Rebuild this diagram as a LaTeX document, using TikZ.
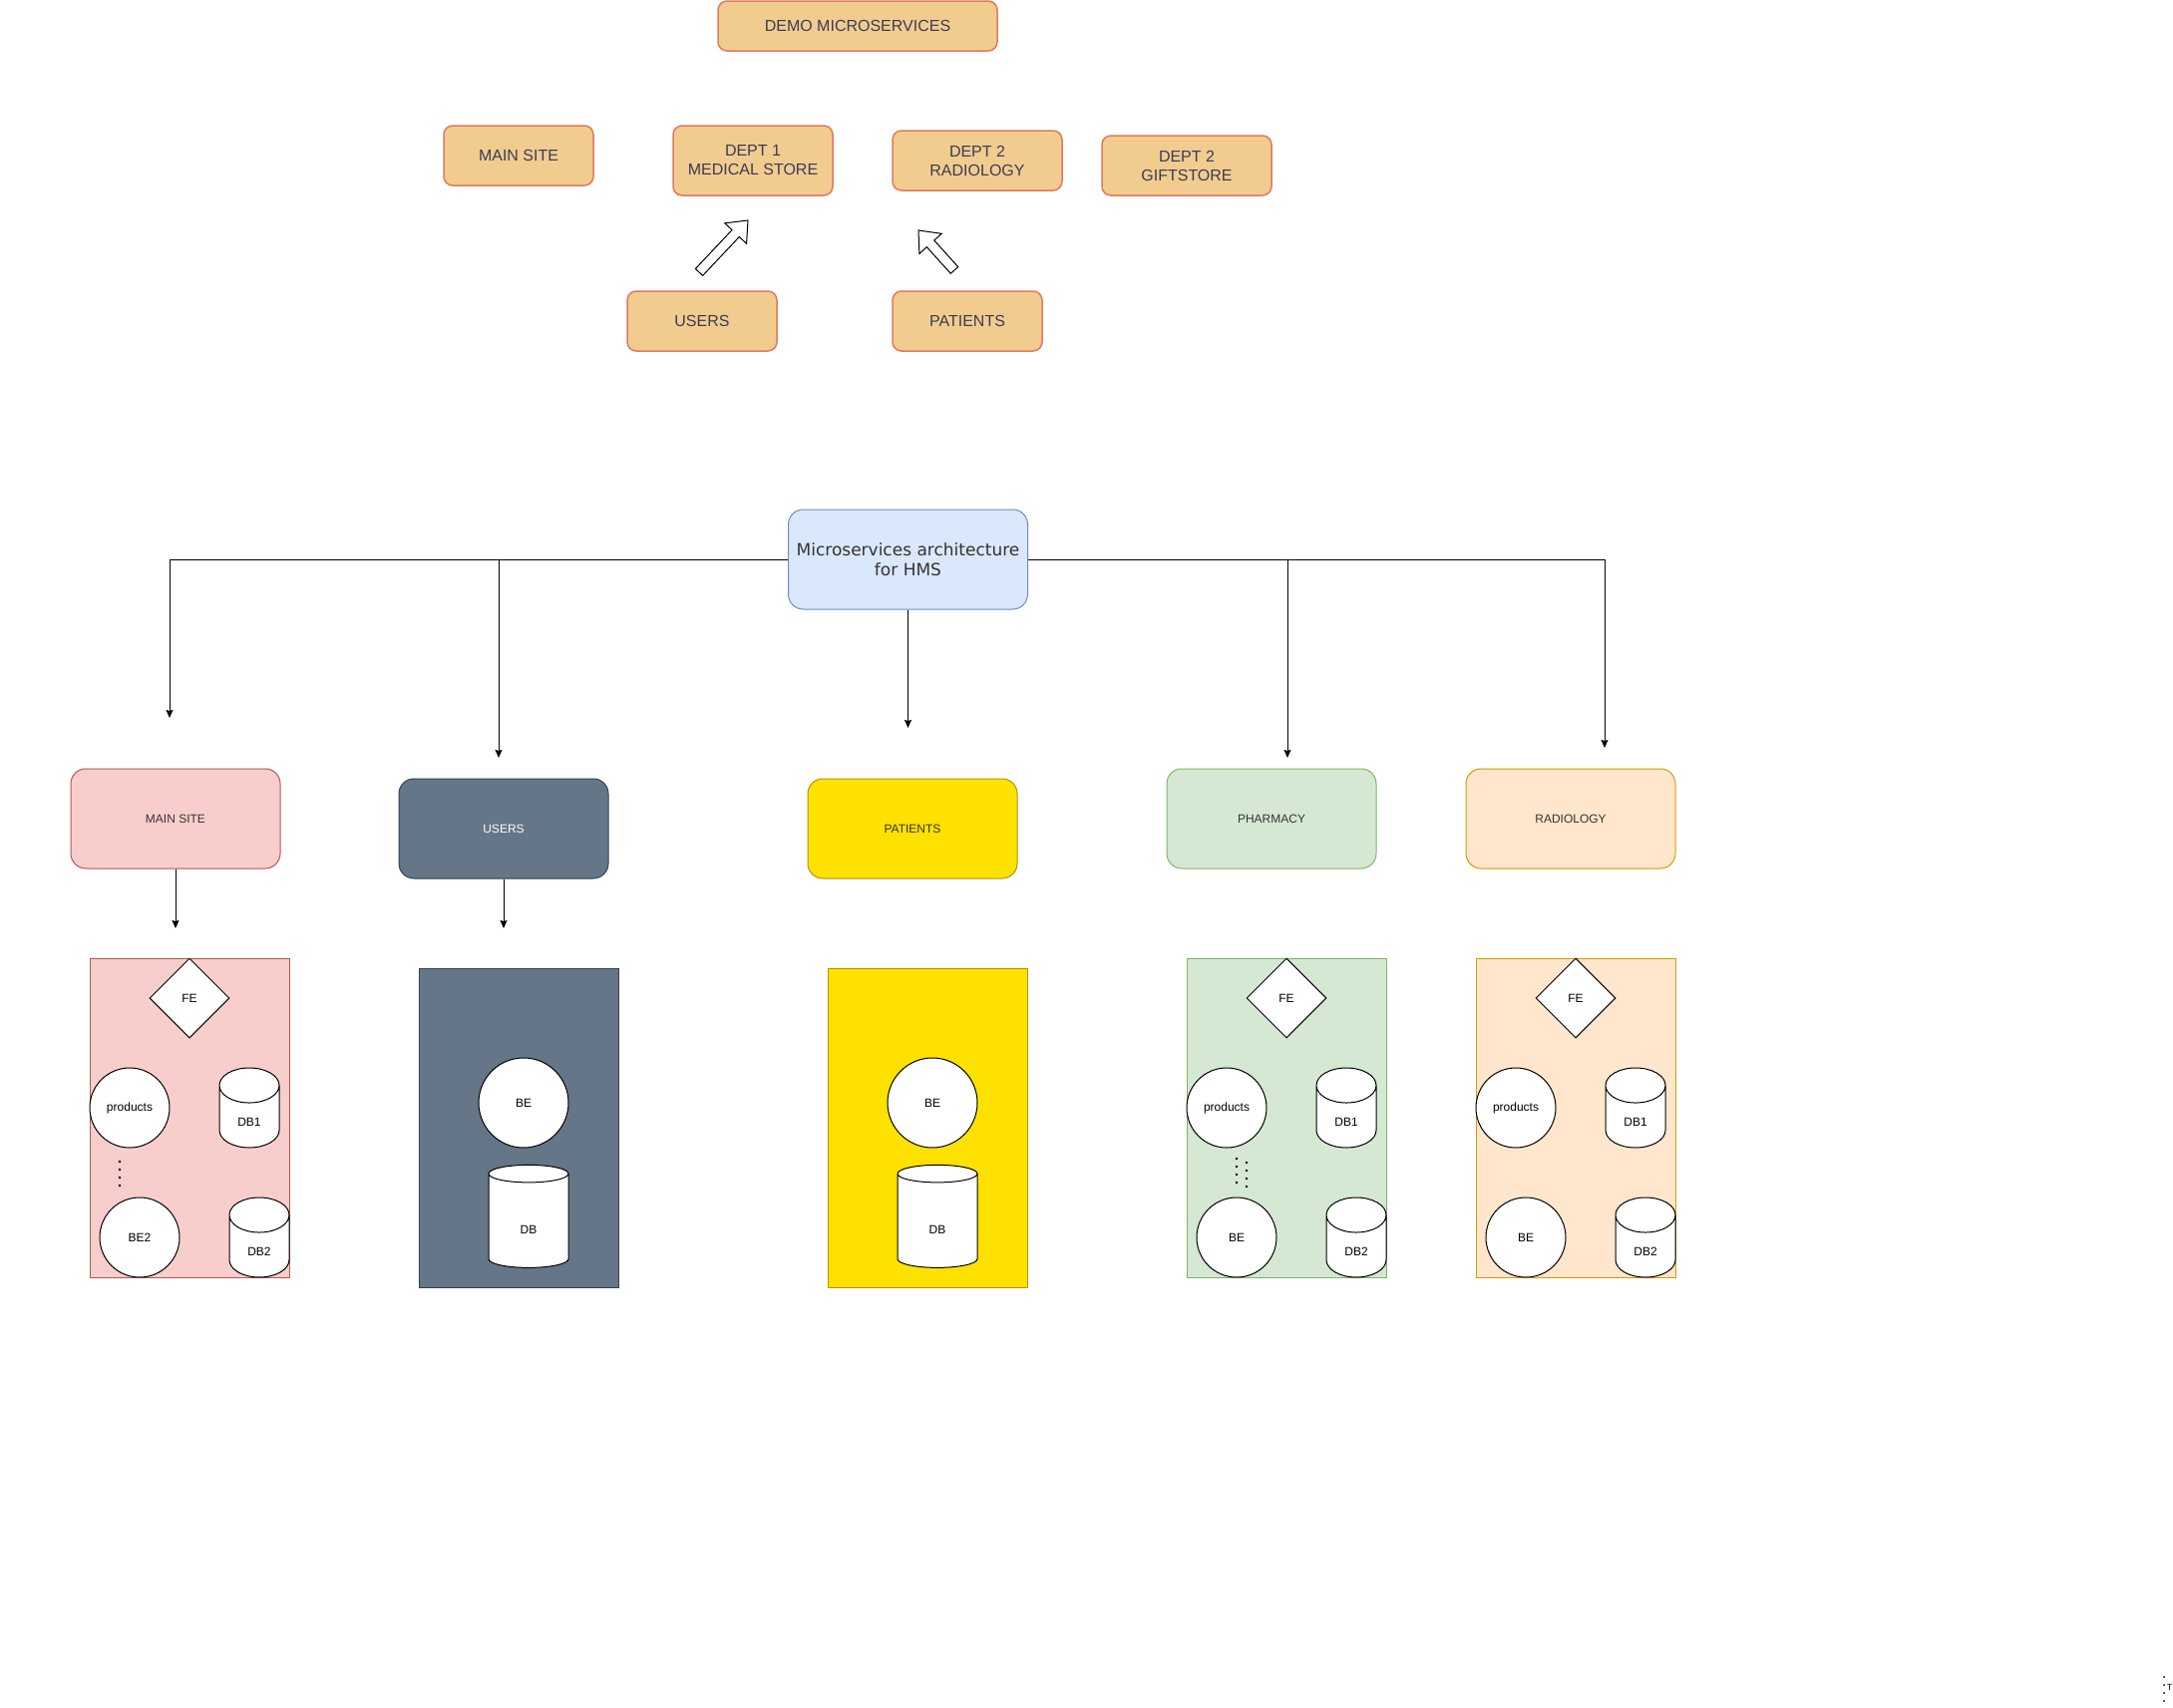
\documentclass[tikz,border=0pt]{standalone}
\usepackage{fontspec}
\setmainfont{Liberation Sans}
\newfontfamily\verdana{DejaVu Sans}
\usetikzlibrary{shapes.geometric, arrows.meta, positioning, calc}
\definecolor{HMSOrange}{HTML}{F2CC8F}
\definecolor{HMSOrangeLine}{HTML}{E07A5F}
\definecolor{HMSText}{HTML}{393C56}
\definecolor{HMSBlue}{HTML}{DAE8FC}
\definecolor{HMSBlueLine}{HTML}{6C8EBF}
\definecolor{HMSRed}{HTML}{F8CECC}
\definecolor{HMSRedLine}{HTML}{B85450}
\definecolor{HMSSlate}{HTML}{647687}
\definecolor{HMSSlateLine}{HTML}{314354}
\definecolor{HMSYellow}{HTML}{FFE100}
\definecolor{HMSYellowLine}{HTML}{B09500}
\definecolor{HMSGreen}{HTML}{D5E8D4}
\definecolor{HMSGreenLine}{HTML}{82B366}
\definecolor{HMSPeach}{HTML}{FFE6CC}
\definecolor{HMSPeachLine}{HTML}{D79B00}
\definecolor{HMSDark}{HTML}{333333}
\tikzset{
  topbox/.style={draw=HMSOrangeLine, fill=HMSOrange, line width=1.5pt, rounded corners=9pt,
    text=HMSText, font=\fontsize{16}{19}\selectfont, align=center, inner sep=0pt},
  svcbox/.style={rounded corners=15pt, line width=1pt, minimum width=210pt, minimum height=100pt,
    inner sep=0pt, font=\fontsize{12}{14}\selectfont, text=HMSDark},
  zone/.style={line width=1pt, minimum width=200pt, minimum height=320pt, inner sep=0pt},
  fenode/.style={diamond, draw, fill=white, line width=1pt, minimum width=80pt, minimum height=80pt,
    inner sep=0pt, font=\fontsize{12}{14}\selectfont},
  benode/.style={circle, draw, fill=white, line width=1pt, minimum size=80pt, inner sep=0pt,
    font=\fontsize{12}{14}\selectfont},
  dbnode/.style={cylinder, shape border rotate=90, aspect=1.5, draw, fill=white, line width=1pt,
    minimum width=60pt, minimum height=80pt, inner sep=0pt, text height=19pt, text depth=0pt,
    font=\fontsize{12}{14}\selectfont},
  conn/.style={line width=1pt, -{Stealth[length=8pt, width=7pt, inset=1pt]}},
  hollow/.style={draw, line width=1pt, fill=white, line join=miter},
}
\begin{document}
\begin{tikzpicture}[x=1pt, y=-1pt]
        \path[use as bounding box, fill=white] (0,0) rectangle (2179,1713);

        % Demo boxes
        \node[topbox, minimum width=280pt, minimum height=50pt] (demo) at (860,26) {DEMO MICROSERVICES};
        \node[topbox, minimum width=150pt, minimum height=60pt] (tMain) at (520,156) {MAIN SITE};
        \node[topbox, minimum width=160pt, minimum height=70pt] (tDept1) at (755,161) {DEPT 1\\MEDICAL STORE};
        \node[topbox, minimum width=170pt, minimum height=60pt] (tDept2) at (980,161) {DEPT 2\\RADIOLOGY};
        \node[topbox, minimum width=170pt, minimum height=60pt] (tGift) at (1190,166) {DEPT 2\\GIFTSTORE};
        \node[topbox, minimum width=150pt, minimum height=60pt] (tUsers) at (704,322) {USERS};
        \node[topbox, minimum width=150pt, minimum height=60pt] (tPatients) at (970,322) {PATIENTS};

        % Block arrows
        \coordinate (usrTail) at (701,273);
        \coordinate (usrTip) at (750,221);
        \coordinate (patTail) at (957,271);
        \coordinate (patTip) at (921,231);
        \foreach \t/\h in {usrTail/usrTip, patTail/patTip} {
            \coordinate (base) at ($(\h)!18pt!(\t)$);
            \draw[hollow] ($(\t)!5pt!90:(\h)$) -- ($(base)!5pt!90:(\h)$) -- ($(base)!15pt!90:(\h)$)
                -- (\h) -- ($(base)!15pt!-90:(\h)$) -- ($(base)!5pt!-90:(\h)$) -- ($(\t)!5pt!-90:(\h)$) -- cycle;
        }

        % Architecture
        \node[draw=HMSBlueLine, fill=HMSBlue, line width=1pt, rounded corners=15pt, minimum width=240pt,
            minimum height=100pt, inner sep=0pt, align=center, text=HMSDark,
            font=\verdana\fontsize{17}{20}\selectfont] (hms) at (910.5,561) {Microservices architecture\\for HMS};

        \coordinate (endMain) at (170,720);
        \coordinate (endUsers) at (500,760);
        \coordinate (endPat) at (910.5,730);
        \coordinate (endPharm) at (1291,760);
        \coordinate (endRad) at (1609,750);
        \draw[conn] (hms.west) -| (endMain);
        \draw[conn] (hms.west -| endUsers) -- (endUsers);
        \draw[conn] (hms.south) -- (endPat);
        \draw[conn] (hms.east) -| (endRad);
        \draw[conn] (hms.east -| endPharm) -- (endPharm);

        % Services
        \node[svcbox, draw=HMSRedLine, fill=HMSRed] (main) at (176,821) {MAIN SITE};
        \node[svcbox, draw=HMSSlateLine, fill=HMSSlate, text=white] (users) at (505,831) {USERS};
        \node[svcbox, draw=HMSYellowLine, fill=HMSYellow] (patients) at (915,831) {PATIENTS};
        \node[svcbox, draw=HMSGreenLine, fill=HMSGreen] (pharmacy) at (1275,821) {PHARMACY};
        \node[svcbox, draw=HMSPeachLine, fill=HMSPeach] (radiology) at (1575,821) {RADIOLOGY};

        \coordinate (mainEnd) at (176,931);
        \coordinate (usersEnd) at (505,931);
        \draw[conn] (main.south) -- (mainEnd);
        \draw[conn] (users.south) -- (usersEnd);

        % Zones with FE, BE and two DBs
        \foreach \z/\zx/\zfill/\zline/\bename in {ms/90/HMSRed/HMSRedLine/BE2, ph/1190/HMSGreen/HMSGreenLine/BE, ra/1480/HMSPeach/HMSPeachLine/BE} {
            \node[zone, draw=\zline, fill=\zfill] (\z-zone) at (\zx+100,1121.5) {};
            \node[fenode] (\z-fe) at (\zx+100,1001) {FE};
            \node[benode] (\z-prod) at (\zx+40,1111) {products};
            \node[dbnode] (\z-db1) at (\zx+160,1120) {DB1};
            \node[benode] (\z-be) at (\zx+50,1241) {\bename};
            \node[dbnode] (\z-db2) at (\zx+170,1250) {DB2};
        }

        % Zones with BE and DB
        \foreach \z/\zx/\zfill/\zline in {us/420/HMSSlate/HMSSlateLine, pa/830/HMSYellow/HMSYellowLine} {
            \node[zone, draw=\zline, fill=\zfill] (\z-zone) at (\zx+100,1131) {};
            \node[benode, minimum size=90pt] (\z-be) at (\zx+105,1106) {BE};
            \node[dbnode, minimum width=80pt, minimum height=103pt, aspect=1.05, text height=25pt] (\z-db) at (\zx+110,1224.5) {DB};
        }

        % Dots
        \foreach \y in {1165,1173,1181,1189} \fill (120,\y) circle (1.3);
        \foreach \y in {1162,1170,1178,1186} \fill (1240,\y) circle (1.3);
        \foreach \y in {1166,1174,1182,1190} \fill (1250,\y) circle (1.3);
        \foreach \y in {1682,1690,1698,1706} \fill (2170,\y) circle (1);
        \node[font=\fontsize{9}{10}\selectfont, inner sep=0pt] (stray) at (2175.5,1692) {T};
\end{tikzpicture}
\end{document}
